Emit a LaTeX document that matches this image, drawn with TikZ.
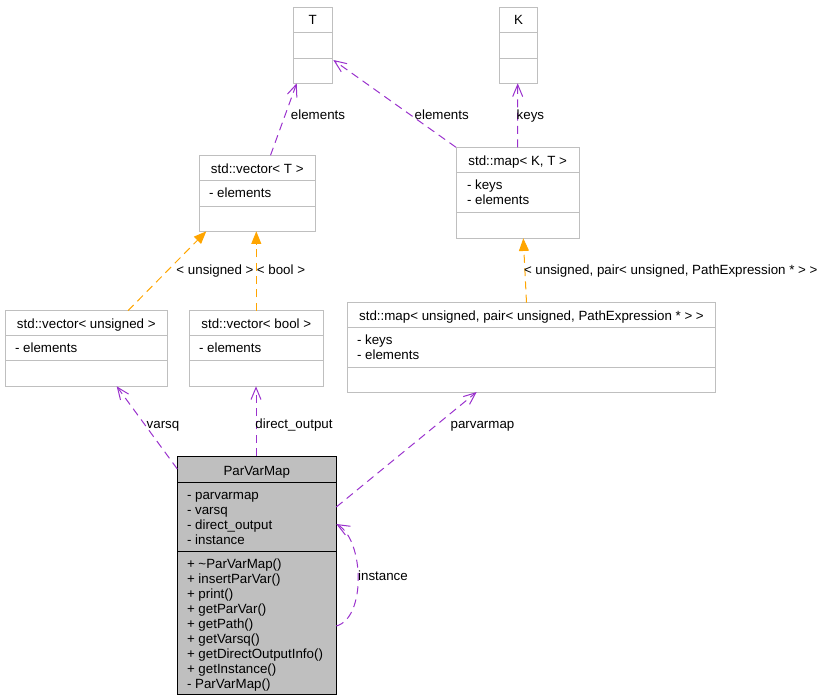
\documentclass[tikz,border=0pt]{standalone}
\usepackage{fontspec}
\setmainfont{Liberation Sans}
\usetikzlibrary{arrows.meta,fit,calc}
\definecolor{edgepurple}{HTML}{9A32CD}
\definecolor{edgeorange}{HTML}{FFA500}
\definecolor{boxgray}{HTML}{BFBFBF}
\begin{document}
\begin{tikzpicture}[x=0.75pt,y=-0.75pt,
  font=\fontsize{10}{11.25}\selectfont,
  umlbox/.style={draw=boxgray,fill=white,line width=0.75pt,inner sep=0pt,outer sep=0pt},
  clsbox/.style={draw=black,fill=boxgray,line width=0.75pt,inner sep=0pt,outer sep=0pt},
  grayline/.style={draw=boxgray,line width=0.75pt},
  blackline/.style={draw=black,line width=0.75pt},
  txt/.style={anchor=base west,inner sep=0pt,outer sep=0pt},
  ttl/.style={anchor=base,inner sep=0pt,outer sep=0pt},
  uses/.style={draw=edgepurple,line width=0.75pt,dash pattern=on 6pt off 4pt,
    -{Straight Barb[length=9pt,width=7.5pt]}},
  tmpl/.style={draw=edgeorange,line width=0.75pt,dash pattern=on 6pt off 4pt,
    -{Triangle[length=9.5pt,width=7.5pt]}}]
\useasboundingbox (0,0) rectangle (825,699);

% T
\node[umlbox,fit={(293.3,7.3)(332.3,83.3)}] (T) {};
\draw[grayline] (293.3,32.3) -- (332.3,32.3);
\draw[grayline] (293.3,58.3) -- (332.3,58.3);
\node[ttl] (Tt) at (312.8,25) {T};

% K
\node[umlbox,fit={(499.3,7.3)(537.7,83.3)}] (K) {};
\draw[grayline] (499.3,32.3) -- (537.7,32.3);
\draw[grayline] (499.3,58.3) -- (537.7,58.3);
\node[ttl] (Kt) at (518.5,25) {K};

% std::vector< T >
\node[umlbox,fit={(199.3,155.3)(315.3,231.3)}] (VT) {};
\draw[grayline] (199.3,180.3) -- (315.3,180.3);
\draw[grayline] (199.3,206.3) -- (315.3,206.3);
\node[ttl] (VTt) at (257.3,173) {std::vector< T >};
\node[txt] (VTa) at (209,197.5) {- elements};

% std::map< K, T >
\node[umlbox,fit={(456,147.3)(579.3,238.3)}] (MKT) {};
\draw[grayline] (456,172.3) -- (579.3,172.3);
\draw[grayline] (456,212.3) -- (579.3,212.3);
\node[ttl] (MKTt) at (517.7,165) {std::map< K, T >};
\node[txt] (MKTa1) at (467,189.5) {- keys};
\node[txt] (MKTa2) at (467,204.5) {- elements};

% std::vector< unsigned >
\node[umlbox,fit={(5.3,310.7)(167.3,386.3)}] (VU) {};
\draw[grayline] (5.3,335.3) -- (167.3,335.3);
\draw[grayline] (5.3,360.7) -- (167.3,360.7);
\node[ttl] (VUt) at (86.3,328) {std::vector< unsigned >};
\node[txt] (VUa) at (15,352.5) {- elements};

% std::vector< bool >
\node[umlbox,fit={(189.3,310.7)(323.3,386.3)}] (VB) {};
\draw[grayline] (189.3,335.3) -- (323.3,335.3);
\draw[grayline] (189.3,360.7) -- (323.3,360.7);
\node[ttl] (VBt) at (256.3,328) {std::vector< bool >};
\node[txt] (VBa) at (199,352.5) {- elements};

% std::map< unsigned, pair< ... > >
\node[umlbox,fit={(347.3,302.7)(715.7,392)}] (MU) {};
\draw[grayline] (347.3,327.3) -- (715.7,327.3);
\draw[grayline] (347.3,367.3) -- (715.7,367.3);
\node[ttl] (MUt) at (531.5,320) {std::map< unsigned, pair< unsigned, PathExpression * > >};
\node[txt] (MUa1) at (357,344.5) {- keys};
\node[txt] (MUa2) at (357,359.5) {- elements};

% ParVarMap
\node[clsbox,fit={(177.3,456)(336.3,694.3)}] (PVM) {};
\draw[blackline] (177.3,482.3) -- (336.3,482.3);
\draw[blackline] (177.3,551.3) -- (336.3,551.3);
\node[ttl] (PVMt) at (256.8,475) {ParVarMap};
\foreach \t [count=\i] in {- parvarmap,- varsq,- direct\_output,- instance}
  \node[txt] (PVMa\i) at (187,{484+15*\i}) {\t};
\foreach \t [count=\i] in {+ \textasciitilde{}ParVarMap(),+ insertParVar(),+ print(),+ getParVar(),+ getPath(),+ getVarsq(),+ getDirectOutputInfo(),+ getInstance(),- ParVarMap()}
  \node[txt] (PVMm\i) at (187,{553+15*\i}) {\t};

% usage edges
\draw[uses] ($(VT.north west)+(71.2,0)$) -- ($(T.south west)+(3.4,0)$);
\node[ttl] (l1) at (318,119) {elements};
\draw[uses] (MKT.north west) -- ($(T.south east)+(1,-23.3)$);
\node[ttl] (l2) at (441.7,119) {elements};
\draw[uses] (MKT.north) -- ($(K.south)+(-0.8,0)$);
\node[txt] (l3) at (516.7,119) {keys};

% template edges
\draw[tmpl] ($(VU.north west)+(122.7,0)$) -- ($(VT.south west)+(7,0)$);
\node[ttl] (l4) at (215,274) {< unsigned >};
\draw[tmpl] (VB.north) -- (VB.north |- VT.south);
\node[ttl] (l5) at (281,274) {< bool >};
\draw[tmpl] ($(MU.north west)+(179.2,0)$) -- ($(MKT.south west)+(67.3,0)$);
\node[txt] (l6) at (524,274) {< unsigned, pair< unsigned, PathExpression * > >};

% ParVarMap usage edges
\draw[uses] ($(PVM.north west)+(0,13)$) -- ($(VU.south west)+(111.4,0)$);
\node[ttl] (l7) at (163,428) {varsq};
\draw[uses] ($(PVM.north west)+(78.7,0)$) -- ($(VB.south west)+(66.7,0)$);
\node[ttl] (l8) at (294,428) {direct\_output};
\draw[uses] ($(PVM.north east)+(0,51)$) -- ($(MU.south west)+(129.4,0)$);
\node[ttl] (l9) at (482.5,428) {parvarmap};
\draw[uses] ($(PVM.north east)+(0,170)$) .. controls ($(PVM.north east)+(30,162)$) and ($(PVM.north east)+(28,84)$) .. ($(PVM.north east)+(0,68)$);
\node[ttl] (l10) at (383,580) {instance};
\end{tikzpicture}
\end{document}
